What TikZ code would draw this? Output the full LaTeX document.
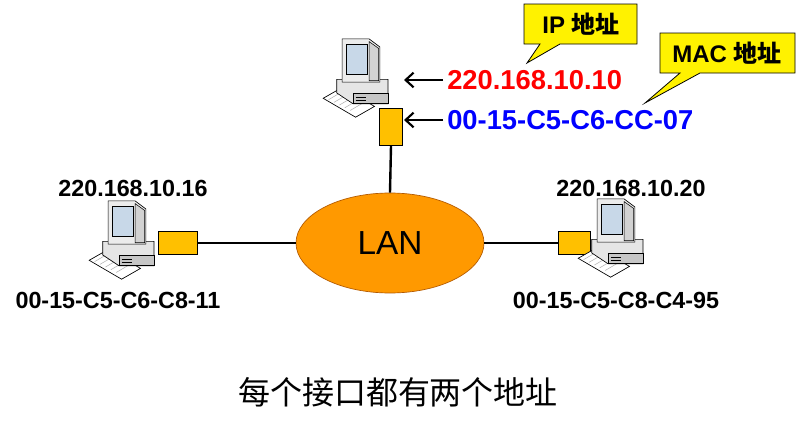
\documentclass[tikz,border=0pt]{standalone}
\usepackage{fontspec}
\setmainfont{Liberation Sans}
\newfontfamily\cjk{Noto Sans CJK SC}
\usetikzlibrary{shapes.geometric,arrows.meta}
\definecolor{lanor}{HTML}{FF9900}
\definecolor{ifor}{HTML}{FFC000}
\definecolor{scr}{HTML}{C8D8E8}
\tikzset{
  x=0.75pt,y=-0.75pt,
  addr/.style={font=\bfseries\fontsize{17.5}{19}\selectfont,inner sep=0pt},
  big/.style={font=\bfseries\fontsize{20.5}{22}\selectfont,inner sep=0pt},
  iface/.style={fill=ifor,draw=black,line width=0.5pt,inner sep=0pt},
  link/.style={line width=1.8pt},
  call/.style={fill=yellow,draw=black,line width=0.6pt},
  pc/.pic={
    \begin{scope}[scale=1.35]
    \draw[fill=white,line width=0.5pt] (-28,18) -- (-14,10) -- (10,24) -- (-4,32) -- cycle;
    \draw[gray!60,line width=0.4pt] (-24,19) -- (-12,12) (-20,21) -- (-8,14) (-16,23)--(-4,16) (-12,25)--(0,18) (-8,27)--(4,20);
    \draw[fill=gray!20,line width=0.5pt] (-18,4) -- (20,4) -- (20,22) -- (-6,22) -- (-18,14) -- cycle;
    \draw[fill=gray!45,line width=0.4pt] (-6,14) rectangle (20,22);
    \draw[line width=0.4pt] (-4,17) -- (4,17) (-4,19.5) -- (4,19.5);
    \draw[fill=gray!15,line width=0.5pt] (-14,-26) -- (6,-26) -- (14,-20) -- (14,6) -- (-14,6) -- cycle;
    \draw[fill=scr,line width=0.5pt] (-11,-22) rectangle (5,0);
    \draw[fill=gray!35,line width=0.4pt] (6,-24) -- (13,-19) -- (13,5) -- (6,5) -- cycle;
    \end{scope}
  }
}
\begin{document}
\begin{tikzpicture}
\useasboundingbox (0,0) rectangle (797,432);
\node[ellipse,fill=lanor,draw=orange!70!black,line width=0.5pt,minimum width=141pt,minimum height=75pt,font=\fontsize{25}{27}\selectfont] (lan) at (390,243) {LAN};
% top computer
\node[iface,minimum width=17pt,minimum height=28pt] (ift) at (391,127) {};
\pic at (361,74) {pc};
\draw[link] (ift.south) -- (lan.north);
% left computer
\node[iface,minimum width=29pt,minimum height=17pt] (ifl) at (178,243) {};
\pic at (127,236) {pc};
\draw[link] (ifl.east) -- (lan.west);
% right computer
\node[iface,minimum width=24pt,minimum height=17pt] (ifr) at (574,243) {};
\pic at (616,234) {pc};
\draw[link] (lan.east) -- (ifr.west);
% labels
\node[addr] (l1) at (133,188) {220.168.10.16};
\node[addr] (l2) at (118,300) {00-15-C5-C6-C8-11};
\node[addr] (r1) at (631,188) {220.168.10.20};
\node[addr] (r2) at (616,300) {00-15-C5-C8-C4-95};
\node[big,anchor=west,text=red] (ip) at (447,80) {220.168.10.10};
\node[big,anchor=west,text=blue] (mac) at (447,120) {00-15-C5-C6-CC-07};
\coordinate (ipt) at (404,80);
\coordinate (mact) at (404,120);
\draw[line width=1.6pt,-{Straight Barb[length=6pt,width=11pt]}] (ip.west) ++(-4,0) -- (ipt);
\draw[line width=1.6pt,-{Straight Barb[length=6pt,width=11pt]}] (mac.west) ++(-4,0) -- (mact);
% callouts
\draw[call] (524,4) -- (637,4) -- (637,44) -- (560,44) -- (527,63) -- (540,44) -- (524,44) -- cycle;
\node[font=\bfseries\fontsize{18}{20}\selectfont] (cip) at (581,24) {IP {\cjk 地址}};
\draw[call] (660,33) -- (795,33) -- (795,73) -- (700,73) -- (645,103) -- (680,73) -- (660,73) -- cycle;
\node[font=\bfseries\fontsize{18}{20}\selectfont] (cmac) at (727,53) {MAC {\cjk 地址}};
% caption
\node[font=\cjk\fontsize{24}{26}\selectfont] (cap) at (398,392) {每个接口都有两个地址};
\end{tikzpicture}
\end{document}
